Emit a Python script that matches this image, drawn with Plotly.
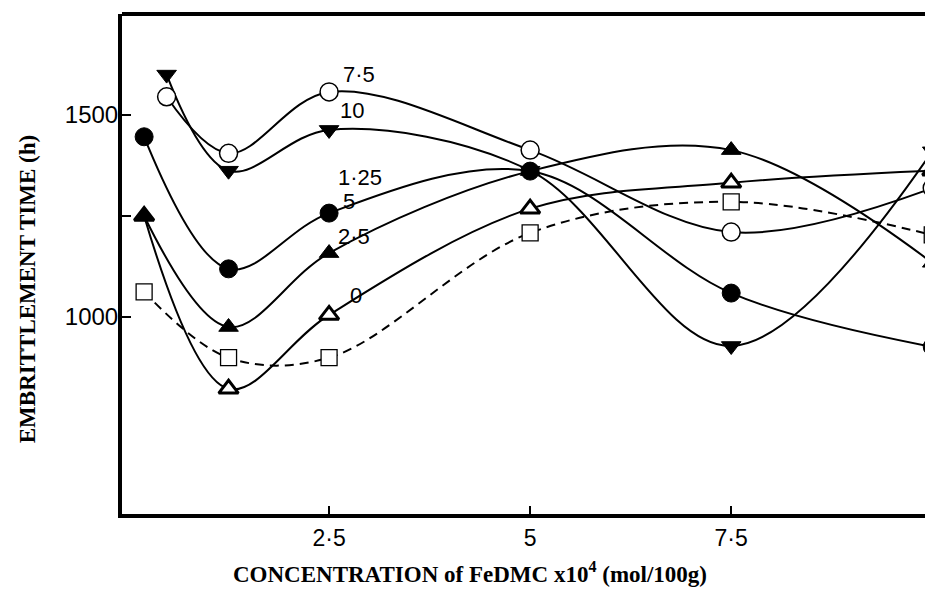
import plotly.graph_objects as go

# FeDMC concentration (x10^4 mol/100g) for each curve
x_low = [0.2, 1.25, 2.5, 5, 7.5, 10]
x_high = [0.48, 1.25, 2.5, 5, 7.5, 10]

# Embrittlement time (h) per series, labelled by second-additive level
t_0 = [1062, 899, 899, 1208, 1285, 1203]
t_2_5 = [1250, 822, 1005, 1268, 1332, 1362]
t_5 = [1250, 975, 1158, 1361, 1413, 1134]
t_10 = [1600, 1362, 1463, 1362, 928, 1410]
t_1_25 = [1446, 1119, 1257, 1361, 1059, 926]
t_7_5 = [1545, 1405, 1557, 1413, 1210, 1319]

x_ticks = [2.5, 5, 7.5]
x_tick_text = ["2·5", "5", "7·5"]
y_ticks = [1000, 1250, 1500]
y_tick_text = ["1000", "", "1500"]

series_labels = ["7·5", "10", "1·25", "5", "2·5", "0"]
label_x = [2.65, 2.61, 2.59, 2.65, 2.59, 2.74]
label_y = [1600, 1512, 1346, 1287, 1198, 1052]

INK = "#000000"
SANS = "Liberation Sans, Arial, sans-serif"
SERIF = "Liberation Serif, Times New Roman, serif"

fig = go.Figure()


def add_curve(x, y, symbol, size, fill, outline, dash="solid"):
    fig.add_trace(go.Scatter(
        x=x, y=y, mode="lines+markers",
        line=dict(color=INK, width=2, shape="spline", smoothing=1.0, dash=dash),
        marker=dict(symbol=symbol, size=size, color=fill,
                    line=dict(color=INK, width=outline)),
        showlegend=False, cliponaxis=True,
    ))


add_curve(x_low, t_0, "square", 16, "white", 1.3, dash="9px,6px")
add_curve(x_low, t_2_5, "triangle-up", 17, "white", 3)
add_curve(x_low, t_5, "triangle-up", 17, INK, 1)
add_curve(x_high, t_10, "triangle-down", 17, INK, 1)
add_curve(x_low, t_1_25, "circle", 18, INK, 1)
add_curve(x_high, t_7_5, "circle", 18, "white", 1.5)

for text, lx, ly in zip(series_labels, label_x, label_y):
    fig.add_annotation(x=lx, y=ly, text=text, showarrow=False,
                       xanchor="left", yanchor="middle",
                       font=dict(family=SANS, size=22, color=INK))

# axis titles
fig.add_annotation(xref="paper", yref="paper", x=0.433, y=-0.117,
                   text="<b>CONCENTRATION of FeDMC x10<sup>4</sup> (mol/100g)</b>",
                   showarrow=False, xanchor="center", yanchor="middle",
                   font=dict(family=SERIF, size=23, color=INK))
fig.add_annotation(xref="paper", yref="paper", x=-0.118, y=0.45,
                   text="<b>EMBRITTLEMENT TIME (h)</b>", textangle=-90,
                   showarrow=False, xanchor="center", yanchor="middle",
                   font=dict(family=SERIF, size=23, color=INK))

# top frame edge
fig.add_shape(type="line", xref="paper", yref="paper", x0=0, x1=1, y0=1, y1=1,
              line=dict(color=INK, width=4))

fig.update_xaxes(range=[-0.075, 9.91], tickvals=x_ticks, ticktext=x_tick_text,
                 ticks="inside", ticklen=8, tickwidth=2, tickcolor=INK,
                 showline=True, linecolor=INK, linewidth=4, showgrid=False,
                 zeroline=False,
                 tickfont=dict(family=SANS, size=23, color=INK))
fig.update_yaxes(range=[512, 1750], tickvals=y_ticks, ticktext=y_tick_text,
                 ticks="inside", ticklen=9, tickwidth=2, tickcolor=INK,
                 ticklabelstandoff=-5,
                 showline=True, linecolor=INK, linewidth=4, showgrid=False,
                 zeroline=False,
                 tickfont=dict(family=SANS, size=24, color=INK))

fig.update_layout(width=925, height=589,
                  margin=dict(l=122, r=0, t=14, b=75),
                  paper_bgcolor="white", plot_bgcolor="white")

fig.write_html("out.html")
